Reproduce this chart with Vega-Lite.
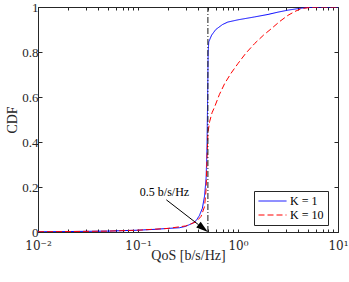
{
  "$schema": "https://vega.github.io/schema/vega-lite/v6.json",
  "width": 300,
  "height": 225,
  "autosize": "none",
  "padding": {"left": 38, "top": 7, "right": 11, "bottom": 50},
  "config": {
    "view": {"stroke": "#262626", "strokeWidth": 1},
    "font": "Liberation Serif",
    "axis": {"grid": false, "domainColor": "#262626", "tickColor": "#262626", "labelColor": "#262626", "titleColor": "#262626", "labelFont": "Liberation Serif", "titleFont": "Liberation Serif", "titleFontWeight": "normal", "labelFontSize": 13, "titleFontSize": 14, "labelOverlap": false, "labelFlush": false, "labelBound": false}
  },
  "datasets": {
    "curves": [
      {"series": "K = 1", "x": 0.01, "y": 0.001},
      {"series": "K = 1", "x": 0.02, "y": 0.002},
      {"series": "K = 1", "x": 0.05, "y": 0.004},
      {"series": "K = 1", "x": 0.1, "y": 0.008},
      {"series": "K = 1", "x": 0.15, "y": 0.012},
      {"series": "K = 1", "x": 0.2, "y": 0.016},
      {"series": "K = 1", "x": 0.26, "y": 0.019},
      {"series": "K = 1", "x": 0.3, "y": 0.025},
      {"series": "K = 1", "x": 0.355, "y": 0.04},
      {"series": "K = 1", "x": 0.38, "y": 0.05},
      {"series": "K = 1", "x": 0.41, "y": 0.072},
      {"series": "K = 1", "x": 0.44, "y": 0.105},
      {"series": "K = 1", "x": 0.463, "y": 0.16},
      {"series": "K = 1", "x": 0.48, "y": 0.24},
      {"series": "K = 1", "x": 0.49, "y": 0.38},
      {"series": "K = 1", "x": 0.497, "y": 0.6},
      {"series": "K = 1", "x": 0.503, "y": 0.8},
      {"series": "K = 1", "x": 0.51, "y": 0.845},
      {"series": "K = 1", "x": 0.545, "y": 0.875},
      {"series": "K = 1", "x": 0.6, "y": 0.9},
      {"series": "K = 1", "x": 0.7, "y": 0.922},
      {"series": "K = 1", "x": 0.79, "y": 0.933},
      {"series": "K = 1", "x": 1.0, "y": 0.943},
      {"series": "K = 1", "x": 1.47, "y": 0.956},
      {"series": "K = 1", "x": 2.0, "y": 0.967},
      {"series": "K = 1", "x": 2.5, "y": 0.977},
      {"series": "K = 1", "x": 3.16, "y": 0.986},
      {"series": "K = 1", "x": 4.0, "y": 0.993},
      {"series": "K = 1", "x": 5.0, "y": 0.998},
      {"series": "K = 1", "x": 7.0, "y": 1.0},
      {"series": "K = 1", "x": 10.0, "y": 1.0},
      {"series": "K = 10", "x": 0.01, "y": 0.001},
      {"series": "K = 10", "x": 0.02, "y": 0.002},
      {"series": "K = 10", "x": 0.05, "y": 0.004},
      {"series": "K = 10", "x": 0.1, "y": 0.008},
      {"series": "K = 10", "x": 0.2, "y": 0.016},
      {"series": "K = 10", "x": 0.3, "y": 0.027},
      {"series": "K = 10", "x": 0.38, "y": 0.045},
      {"series": "K = 10", "x": 0.427, "y": 0.069},
      {"series": "K = 10", "x": 0.463, "y": 0.113},
      {"series": "K = 10", "x": 0.48, "y": 0.19},
      {"series": "K = 10", "x": 0.49, "y": 0.33},
      {"series": "K = 10", "x": 0.5, "y": 0.44},
      {"series": "K = 10", "x": 0.52, "y": 0.49},
      {"series": "K = 10", "x": 0.55, "y": 0.53},
      {"series": "K = 10", "x": 0.585, "y": 0.557},
      {"series": "K = 10", "x": 0.65, "y": 0.61},
      {"series": "K = 10", "x": 0.736, "y": 0.66},
      {"series": "K = 10", "x": 0.85, "y": 0.705},
      {"series": "K = 10", "x": 1.0, "y": 0.749},
      {"series": "K = 10", "x": 1.2, "y": 0.795},
      {"series": "K = 10", "x": 1.47, "y": 0.838},
      {"series": "K = 10", "x": 1.8, "y": 0.875},
      {"series": "K = 10", "x": 2.16, "y": 0.904},
      {"series": "K = 10", "x": 2.6, "y": 0.935},
      {"series": "K = 10", "x": 3.16, "y": 0.963},
      {"series": "K = 10", "x": 3.7, "y": 0.98},
      {"series": "K = 10", "x": 4.3, "y": 0.993},
      {"series": "K = 10", "x": 5.5, "y": 0.999},
      {"series": "K = 10", "x": 7.0, "y": 1.0},
      {"series": "K = 10", "x": 10.0, "y": 1.0}
    ]
  },
  "layer": [
    {
      "data": {"name": "curves"},
      "mark": {"type": "line", "strokeWidth": 1, "clip": true},
      "encoding": {
        "x": {"field": "x", "type": "quantitative",
          "scale": {"type": "log", "domain": [0.01, 10], "nice": false},
          "axis": {"orient": "bottom", "title": "QoS [b/s/Hz]", "titlePadding": -3, "labelPadding": 11,
            "labelFont": "DejaVu Serif", "labelFontSize": 12,
            "values": [0.01,0.02,0.03,0.04,0.05,0.06,0.07,0.08,0.09,0.1,0.2,0.3,0.4,0.5,0.6,0.7,0.8,0.9,1,2,3,4,5,6,7,8,9,10],
            "labelExpr": "datum.value == 0.01 ? '10⁻²' : datum.value == 0.1 ? '10⁻¹' : datum.value == 1 ? '10⁰' : datum.value == 10 ? '10¹' : ''",
            "tickSize": -3}},
        "y": {"field": "y", "type": "quantitative",
          "scale": {"domain": [0, 1], "nice": false},
          "axis": {"orient": "left", "title": "CDF", "titlePadding": 2, "labelPadding": 4,
            "values": [0, 0.2, 0.4, 0.6, 0.8, 1], "format": "~g", "tickSize": -4}},
        "color": {"field": "series", "type": "nominal",
          "scale": {"domain": ["K = 1", "K = 10"], "range": ["#0000ff", "#ff0000"]},
          "legend": {"title": null, "orient": "none", "legendX": 216, "legendY": 184,
            "strokeColor": "#262626", "fillColor": "white", "padding": 4,
            "symbolType": "stroke", "symbolSize": 784, "symbolStrokeWidth": 1, "clipHeight": 12,
            "labelFont": "Liberation Serif", "labelFontSize": 12, "labelColor": "#000000", "labelOffset": 3, "rowPadding": 2}},
        "strokeDash": {"field": "series", "type": "nominal",
          "scale": {"domain": ["K = 1", "K = 10"], "range": [[1, 0], [6, 3]]},
          "legend": {"title": null, "orient": "none", "legendX": 216, "legendY": 184,
            "strokeColor": "#262626", "fillColor": "white", "padding": 4,
            "symbolType": "stroke", "symbolSize": 784, "symbolStrokeWidth": 1, "clipHeight": 12,
            "labelFont": "Liberation Serif", "labelFontSize": 12, "labelColor": "#000000", "labelOffset": 3, "rowPadding": 2}}
      }
    },
    {
      "data": {"values": [{"x": 0.5, "y0": 0, "y1": 1}]},
      "mark": {"type": "rule", "color": "#1a1a1a", "strokeWidth": 1, "strokeDash": [6, 2, 1, 2]},
      "encoding": {
        "x": {"field": "x", "type": "quantitative",
          "axis": {"orient": "top", "title": null, "labels": false, "domain": false,
            "values": [0.01,0.02,0.03,0.04,0.05,0.06,0.07,0.08,0.09,0.1,0.2,0.3,0.4,0.5,0.6,0.7,0.8,0.9,1,2,3,4,5,6,7,8,9,10],
            "tickSize": -3}},
        "y": {"field": "y0", "type": "quantitative",
          "axis": {"orient": "right", "title": null, "labels": false, "domain": false,
            "values": [0, 0.2, 0.4, 0.6, 0.8, 1], "tickSize": -4}},
        "y2": {"field": "y1"}
      }
    },
    {
      "data": {"values": [{"x": 0.192, "y": 0.143, "x2": 0.404, "y2": 0.032}]},
      "mark": {"type": "rule", "color": "#000000", "strokeWidth": 1},
      "encoding": {
        "x": {"field": "x", "type": "quantitative", "axis": null},
        "x2": {"field": "x2"},
        "y": {"field": "y", "type": "quantitative", "axis": null},
        "y2": {"field": "y2"}
      }
    },
    {
      "data": {"values": [{"x": 0.5, "y": 0.0}]},
      "mark": {"type": "point", "shape": "M0,0L-1,-0.3L-1,0.3Z", "filled": true, "color": "#000000", "opacity": 1, "size": 576, "angle": 38},
      "encoding": {
        "x": {"field": "x", "type": "quantitative", "axis": null},
        "y": {"field": "y", "type": "quantitative", "axis": null}
      }
    },
    {
      "data": {"values": [{"x": 0.184, "y": 0.161, "label": "0.5 b/s/Hz"}]},
      "mark": {"type": "text", "font": "Liberation Serif", "fontSize": 12, "align": "center", "baseline": "alphabetic", "color": "#000000"},
      "encoding": {
        "x": {"field": "x", "type": "quantitative", "axis": null},
        "y": {"field": "y", "type": "quantitative", "axis": null},
        "text": {"field": "label"}
      }
    }
  ],
  "resolve": {"axis": {"x": "independent", "y": "independent"}}
}
